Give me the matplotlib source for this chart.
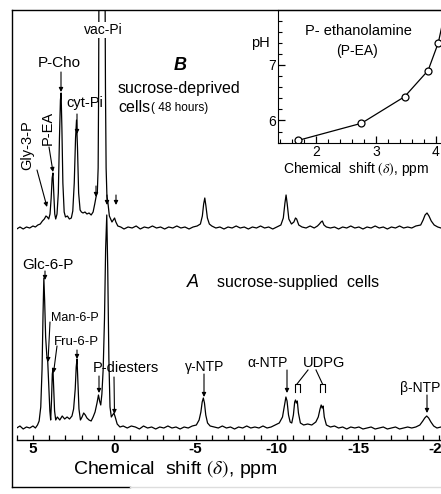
import matplotlib
matplotlib.use('Agg')
import matplotlib.pyplot as plt
from matplotlib.ticker import MultipleLocator

plt.rcParams['font.family'] = ['Liberation Sans', 'DejaVu Sans']
plt.rcParams['mathtext.fontset'] = 'stix'

# spectrum A (sucrose-supplied), chemical shift in ppm and height above baseline
a_ppm = [6.00, 5.80, 5.60, 5.40, 5.20, 5.00, 4.85, 4.72, 4.62, 4.52, 4.44, 4.38, 4.33, 4.28, 4.22,
         4.15, 4.09, 4.03, 3.96, 3.91, 3.86, 3.81, 3.77, 3.73, 3.67, 3.60, 3.50, 3.35, 3.20, 3.05,
         2.90, 2.75, 2.60, 2.50, 2.40, 2.34, 2.29, 2.24, 2.17, 2.08, 1.98, 1.88, 1.78, 1.68, 1.55,
         1.42, 1.30, 1.18, 1.06, 0.97, 0.90, 0.83, 0.76, 0.68, 0.60, 0.53, 0.46, 0.40, 0.33, 0.26,
         0.18, 0.10, 0.02, -0.06, -0.18, -0.35, -0.55, -0.80, -1.05, -1.30, -1.55, -1.80, -2.05,
         -2.30, -2.55, -2.80, -3.05, -3.30, -3.55, -3.80, -4.05, -4.30, -4.55, -4.80, -5.05, -5.22,
         -5.33, -5.41, -5.48, -5.55, -5.63, -5.74, -5.90, -6.15, -6.40, -6.65, -6.90, -7.15, -7.40,
         -7.65, -7.90, -8.15, -8.40, -8.65, -8.90, -9.15, -9.40, -9.65, -9.90, -10.15, -10.35,
         -10.48, -10.56, -10.63, -10.72, -10.82, -10.92, -11.02, -11.10, -11.15, -11.20, -11.26,
         -11.33, -11.45, -11.65, -11.90, -12.15, -12.40, -12.55, -12.66, -12.73, -12.79, -12.85,
         -12.92, -13.05, -13.30, -13.55, -13.80, -14.05, -14.30, -14.55, -14.80, -15.05, -15.30,
         -15.55, -15.80, -16.05, -16.30, -16.55, -16.80, -17.05, -17.30, -17.55, -17.80, -18.05,
         -18.30, -18.55, -18.80, -18.98, -19.10, -19.22, -19.34, -19.48, -19.65, -19.85, -20.10]
a_int = [1, 3, 0, 2, 1, 3, 1, 4, 8, 22, 60, 115, 151, 128, 92,
         74, 67, 45, 18, 9, 28, 55, 60, 44, 18, 9, 12, 9, 13, 10,
         12, 10, 13, 20, 40, 62, 70, 50, 20, 9, 12, 16, 14, 11, 9,
         8, 12, 17, 26, 34, 28, 24, 35, 60, 110, 180, 214, 160, 70, 22,
         12, 14, 16, 12, 5, 2, 3, 1, 3, 2, 0, 3, 1,
         2, 0, 2, 1, 3, 1, 2, 0, 2, 1, 3, 4, 9,
         17, 27, 31, 26, 14, 6, 3, 2, 1, 3, 1, 2, 0,
         2, 1, 3, 1, 2, 1, 3, 1, 2, 4, 6, 12,
         24, 32, 28, 14, 7, 6, 14, 27, 29, 26, 28,
         16, 6, 4, 5, 4, 7, 12, 20, 24, 21, 23,
         12, 4, 2, 3, 1, 2, 0, 2, 1, 2, 0,
         1, 2, 0, 1, 2, 0, 1, 2, 0, 1, 2,
         1, 2, 4, 8, 11, 13, 11, 7, 3, 1, 2]

# spectrum B (sucrose-deprived, 48 hours)
b_ppm = [6.00, 5.80, 5.60, 5.40, 5.20, 5.00, 4.85, 4.70, 4.55, 4.42, 4.30, 4.20, 4.12, 4.03, 3.95,
         3.88, 3.82, 3.77, 3.72, 3.66, 3.60, 3.52, 3.44, 3.37, 3.31, 3.27, 3.22, 3.16, 3.08, 3.00,
         2.88, 2.76, 2.64, 2.55, 2.46, 2.38, 2.32, 2.26, 2.19, 2.10, 2.02, 1.92, 1.80, 1.68, 1.55,
         1.42, 1.30, 1.20, 1.12, 1.04, 0.99, 0.96, 0.93, 0.58, 0.54, 0.50, 0.45, 0.38, 0.30, 0.22,
         0.14, 0.06, -0.02, -0.10, -0.22, -0.40, -0.60, -0.85, -1.10, -1.35, -1.60, -1.85, -2.10,
         -2.35, -2.60, -2.85, -3.10, -3.35, -3.60, -3.85, -4.10, -4.35, -4.60, -4.85, -5.10, -5.30,
         -5.42, -5.50, -5.57, -5.64, -5.73, -5.85, -6.00, -6.25, -6.50, -6.75, -7.00, -7.25, -7.50,
         -7.75, -8.00, -8.25, -8.50, -8.75, -9.00, -9.25, -9.50, -9.75, -10.00, -10.25, -10.40,
         -10.50, -10.57, -10.64, -10.74, -10.90, -11.05, -11.15, -11.22, -11.35, -11.55, -11.80,
         -12.05, -12.30, -12.50, -12.62, -12.72, -12.80, -12.90, -13.05, -13.30, -13.55, -13.80,
         -14.05, -14.30, -14.55, -14.80, -15.05, -15.30, -15.55, -15.80, -16.05, -16.30, -16.55,
         -16.80, -17.05, -17.30, -17.55, -17.80, -18.05, -18.30, -18.55, -18.85, -19.00, -19.12,
         -19.24, -19.36, -19.50, -19.68, -19.90, -20.10]
b_int = [-1, 1, -1, 1, 0, 2, 1, 3, 4, 7, 9, 12, 11, 9, 14,
         30, 50, 55, 35, 14, 9, 14, 35, 90, 128, 135, 100, 45, 16, 11,
         12, 9, 10, 17, 45, 90, 108, 80, 35, 18, 16, 15, 16, 14, 15,
         13, 16, 24, 31, 36, 60, 140, 300, 300, 140, 60, 32, 24, 12, 9,
         6, 8, 10, 6, 2, 1, -1, 1, 0, 2, -1, 1, 0,
         2, 0, 1, -1, 1, 0, 2, 0, 1, -1, 1, 2, 4,
         12, 24, 30, 22, 10, 4, 2, 0, 1, -1, 1, 0, 2,
         0, 1, -1, 1, 0, 2, 0, 1, -1, 1, 3, 10,
         25, 33, 24, 9, 4, 6, 10, 9, 3, 1, 0,
         2, 0, 2, 4, 6, 7, 3, 1, 0, 1, -1,
         1, 0, 2, 0, 1, -1, 1, 0, 2, 0, 1,
         -1, 1, 0, 2, 0, 1, 0, 2, 3, 8, 13,
         15, 12, 7, 3, 1, 0]

shift_ticks = [5, 0, -5, -10, -15, -20]
shift_labels = ['5', '0', '-5', '-10', '-15', '-20']

# inset: pH titration of P-ethanolamine
pea_shift = [1.70, 2.76, 3.48, 3.87, 4.04, 4.12]
pea_ph = [5.64, 5.95, 6.43, 6.90, 7.40, 7.80]

W, H = 441, 494
fig = plt.figure(figsize=(W / 100, H / 100), dpi=100)

# spectra
ax = fig.add_axes([16.7 / W, 54 / H, 1 - 16.7 / W, 430 / H])
ax.patch.set_visible(False)
ax.plot(a_ppm, [v + 11 for v in a_int], color='black', lw=0.9)
ax.plot(b_ppm, [v + 212 for v in b_int], color='black', lw=0.9)
ax.set_xlim(6.0, -20.1)
ax.set_ylim(0, 430)
for s in ['left', 'right', 'top']:
    ax.spines[s].set_visible(False)
ax.spines['bottom'].set_linewidth(1.0)
ax.tick_params(axis='y', left=False, labelleft=False)
ax.set_xticks(shift_ticks)
ax.set_xticklabels(shift_labels, fontsize=11, fontweight='bold')
ax.xaxis.set_minor_locator(MultipleLocator(1))
ax.tick_params(axis='x', which='both', direction='in', length=3.5, width=0.9, pad=1.5)

# inset
ins = fig.add_axes([278 / W, 1 - 142.7 / H, 1 - 278 / W, 132.7 / H])
ins.plot(pea_shift, pea_ph, color='black', lw=0.9, marker='o', ms=5,
         mfc='white', mec='black', mew=0.9, markevery=[0, 1, 2, 3, 4])
ins.set_xlim(1.37, 4.085)
ins.set_ylim(5.6, 7.99)
ins.spines['right'].set_visible(False)
ins.set_xticks([2, 3, 4])
ins.set_yticks([6, 7])
ins.xaxis.set_minor_locator(MultipleLocator(0.2))
ins.yaxis.set_minor_locator(MultipleLocator(0.2))
ins.tick_params(which='major', direction='in', length=5, width=0.9, labelsize=10, pad=1.5)
ins.tick_params(which='minor', direction='in', length=3, width=0.8)

# overlay in pixel coordinates for frame, labels and arrows
ov = fig.add_axes([0, 0, 1, 1])
ov.set_xlim(0, W)
ov.set_ylim(H, 0)
ov.axis('off')

ov.plot([12, 12], [10, 487], color='black', lw=1.0)
ov.plot([12, W], [10, 10], color='black', lw=1.0)
ov.plot([12, 130], [487, 487], color='black', lw=1.0)
ov.plot([130, W], [487, 487], color='#dddddd', lw=1.0)

ov.text(73, 469, 'Chemical  shift $(\\delta)$, ppm', fontsize=14, ha='left', va='center')

# inset labels
ov.text(260, 43, 'pH', fontsize=10.5, ha='center', va='center')
ov.text(358, 31, 'P- ethanolamine', fontsize=10.5, ha='center', va='center')
ov.text(357, 51, '(P-EA)', fontsize=10, ha='center', va='center')
ov.text(283, 169, 'Chemical  shift $(\\delta)$, ppm', fontsize=10, ha='left', va='center')

# spectrum B labels
ov.text(103, 30, 'vac-Pi', fontsize=10, ha='center', va='center',
        bbox=dict(facecolor='white', edgecolor='none', pad=0.5))
ov.text(59, 63, 'P-Cho', fontsize=11, ha='center', va='center')
ov.text(180, 65, 'B', fontsize=13, fontstyle='italic', fontweight='bold', ha='center', va='center')
ov.text(118, 88, 'sucrose-deprived', fontsize=11.5, ha='left', va='center')
ov.text(118, 107, 'cells', fontsize=11.5, ha='left', va='center')
ov.text(151, 108, '( 48 hours)', fontsize=8.5, ha='left', va='center')
ov.text(85, 103, 'cyt-Pi', fontsize=10.5, ha='center', va='center')
ov.text(27, 145, 'Gly-3-P', fontsize=10.5, rotation=90, ha='center', va='center')
ov.text(48, 128, 'P-EA', fontsize=10.5, rotation=90, ha='center', va='center')

# spectrum A labels
ov.text(48, 265, 'Glc-6-P', fontsize=11, ha='center', va='center')
ov.text(75, 318, 'Man-6-P', fontsize=9, ha='center', va='center')
ov.text(76, 342, 'Fru-6-P', fontsize=9.5, ha='center', va='center')
ov.text(126, 368, 'P-diesters', fontsize=10.5, ha='center', va='center')
ov.text(205, 367, 'γ-NTP', fontsize=10, ha='center', va='center')
ov.text(268, 363, 'α-NTP', fontsize=10, ha='center', va='center')
ov.text(324, 363, 'UDPG', fontsize=10.5, ha='center', va='center')
ov.text(400, 388, 'β-NTP', fontsize=10, ha='left', va='center')
ov.text(193, 282, 'A', fontsize=13, fontstyle='italic', ha='center', va='center')
ov.text(217, 282, 'sucrose-supplied  cells', fontsize=11.5, ha='left', va='center')

arrows = [
    ((37, 170), (47, 207)),
    ((49, 147), (53, 172)),
    ((61, 72), (61, 92)),
    ((77, 114), (77, 134)),
    ((96, 186), (96, 197)),
    ((107, 195), (107, 205)),
    ((116, 195), (116, 205)),
    ((45, 271), (45, 280)),
    ((50, 322), (48, 362)),
    ((57, 346), (53.5, 373)),
    ((77, 350), (77, 359)),
    ((99, 376), (99, 393)),
    ((114, 377), (114.5, 414)),
    ((204, 374), (204, 397)),
    ((287, 370), (287, 393)),
    ((427, 395), (427, 413)),
]
for tail, head in arrows:
    ov.annotate('', xy=head, xytext=tail,
                arrowprops=dict(arrowstyle='-|>', color='black', lw=0.8,
                                mutation_scale=6, shrinkA=0, shrinkB=0))

# UDPG brackets
ov.plot([308, 297], [370, 384], color='black', lw=0.8)
ov.plot([316, 322.5], [370, 384], color='black', lw=0.8)
ov.plot([295, 295, 299.5, 299.5], [392, 384, 384, 392], color='black', lw=0.8)
ov.plot([320, 320, 325, 325], [392, 384, 384, 392], color='black', lw=0.8)

fig.savefig('out.png', dpi=100)
